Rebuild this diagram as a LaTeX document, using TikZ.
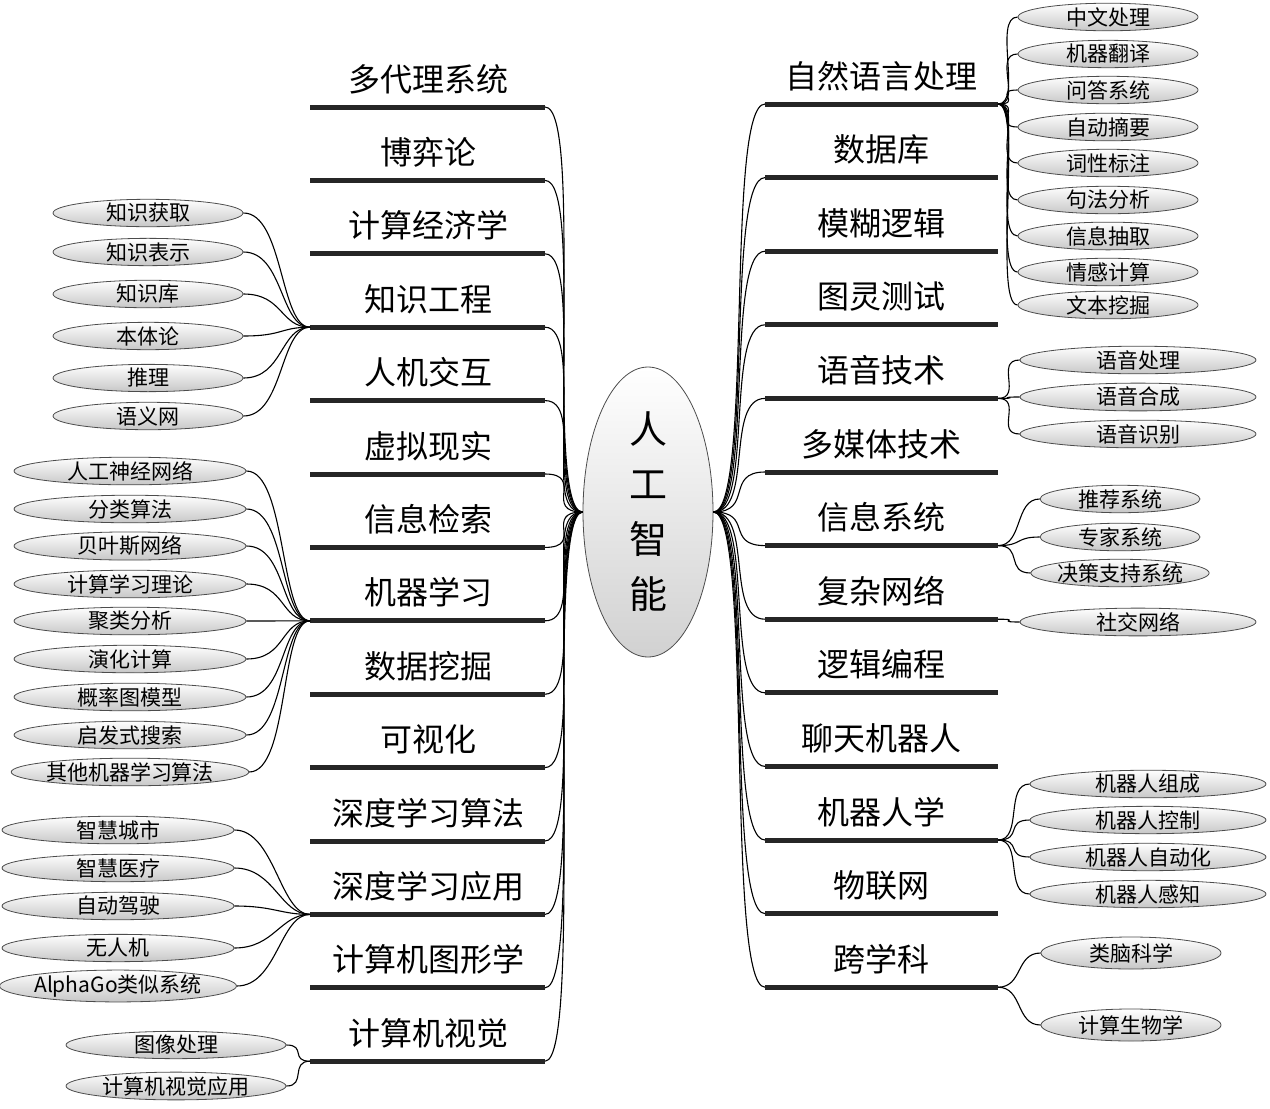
\documentclass[tikz,border=0pt]{standalone}
\usepackage{fontspec}
\setmainfont{Noto Sans CJK SC}
\begin{document}
\begin{tikzpicture}[x=1pt,y=-1pt,
 br/.style={line width=5pt,draw=black!85},
 conn/.style={line width=1.1pt,draw=black},
 ttl/.style={font=\fontsize{32}{32}\selectfont,anchor=base},
 sub/.style={ellipse,draw=black!70,line width=0.8pt,top color=white,bottom color=black!22,minimum height=25pt,inner sep=0pt,font=\fontsize{21}{21}\selectfont}]
\useasboundingbox (0,0) rectangle (1270,1109);
\usetikzlibrary{shapes.geometric}
\node[ellipse,draw=black!70,line width=0.8pt,top color=white,bottom color=black!18,minimum width=130pt,minimum height=290pt,inner sep=0pt,align=center,font=\fontsize{38}{55}\selectfont] (c) at (648,512) {人\\工\\智\\能};
\foreach \t [count=\i] in {多代理系统,博弈论,计算经济学,知识工程,人机交互,虚拟现实,信息检索,机器学习,数据挖掘,可视化,深度学习算法,深度学习应用,计算机图形学,计算机视觉}{
 \pgfmathsetmacro\yy{107+73.4*(\i-1)}
 \node[ttl] (lt\i) at (428,\yy-16) {\t};
 \draw[br] (310,\yy) coordinate (Ll\i) -- (545,\yy) coordinate (Lr\i);
 \draw[conn] (c.west) .. controls +(-40,0) and +(40,0) .. (Lr\i);
}
\foreach \t [count=\i] in {自然语言处理,数据库,模糊逻辑,图灵测试,语音技术,多媒体技术,信息系统,复杂网络,逻辑编程,聊天机器人,机器人学,物联网,跨学科}{
 \pgfmathsetmacro\yy{104+73.6*(\i-1)}
 \node[ttl] (rt\i) at (881,\yy-16) {\t};
 \draw[br] (765,\yy) coordinate (Rl\i) -- (998,\yy) coordinate (Rr\i);
 \draw[conn] (c.east) .. controls +(40,0) and +(-40,0) .. (Rl\i);
}
% left subs
\foreach \t/\y [count=\i] in {知识获取/213,知识表示/252,知识库/294,本体论/336,推理/378,语义网/416}{
 \node[sub,minimum width=190pt] (ka\i) at (148,\y) {\t};
 \draw[conn] (ka\i.east) .. controls +(40,0) and +(-30,0) .. (Ll4);}
\foreach \t/\y [count=\i] in {人工神经网络/471,分类算法/509,贝叶斯网络/546,计算学习理论/584,聚类分析/621,演化计算/659,概率图模型/697,启发式搜索/735,其他机器学习算法/772}{
 \node[sub,minimum width=232pt] (ml\i) at (130,\y) {\t};
 \draw[conn] (ml\i.east) .. controls +(40,0) and +(-30,0) .. (Ll8);}
\foreach \t/\y [count=\i] in {智慧城市/830,智慧医疗/868,自动驾驶/906,无人机/948,AlphaGo类似系统/986}{
 \node[sub,minimum width=232pt] (dl\i) at (118,\y) {\t};
 \draw[conn] (dl\i.east) .. controls +(40,0) and +(-30,0) .. (Ll12);}
\foreach \t/\y [count=\i] in {图像处理/1045,计算机视觉应用/1086}{
 \node[sub,minimum width=220pt] (cv\i) at (176,\y) {\t};
 \draw[conn] (cv\i.east) .. controls +(20,0) and +(-20,0) .. (Ll14);}
% right subs
\foreach \t/\y [count=\i] in {中文处理/17,机器翻译/54,问答系统/90,自动摘要/127,词性标注/163,句法分析/200,信息抽取/236,情感计算/272,文本挖掘/305}{
 \node[sub,minimum width=180pt,minimum height=22pt] (nl\i) at (1108,\y) {\t};
 \draw[conn] (Rr1) .. controls +(25,0) and +(-25,0) .. (nl\i.west);}
\foreach \t/\y [count=\i] in {语音处理/360,语音合成/397,语音识别/434}{
 \node[sub,minimum width=236pt] (sp\i) at (1138,\y) {\t};
 \draw[conn] (Rr5) .. controls +(25,0) and +(-25,0) .. (sp\i.west);}
\foreach \t/\y [count=\i] in {推荐系统/499,专家系统/537,决策支持系统/573}{
 \node[sub,minimum width=160pt] (is\i) at (1120,\y) {\t};
 \draw[conn] (Rr7) .. controls +(25,0) and +(-25,0) .. (is\i.west);}
\node[sub,minimum width=236pt] (sn) at (1138,622) {社交网络};
\draw[conn] (Rr8) .. controls +(25,0) and +(-25,0) .. (sn.west);
\foreach \t/\y [count=\i] in {机器人组成/784,机器人控制/820,机器人自动化/857,机器人感知/894}{
 \node[sub,minimum width=236pt] (rb\i) at (1148,\y) {\t};
 \draw[conn] (Rr11) .. controls +(25,0) and +(-25,0) .. (rb\i.west);}
\foreach \t/\y [count=\i] in {类脑科学/953,计算生物学/1025}{
 \node[sub,minimum width=180pt,minimum height=32pt] (ix\i) at (1131,\y) {\t};
 \draw[conn] (Rr13) .. controls +(25,0) and +(-25,0) .. (ix\i.west);}
\end{tikzpicture}
\end{document}
